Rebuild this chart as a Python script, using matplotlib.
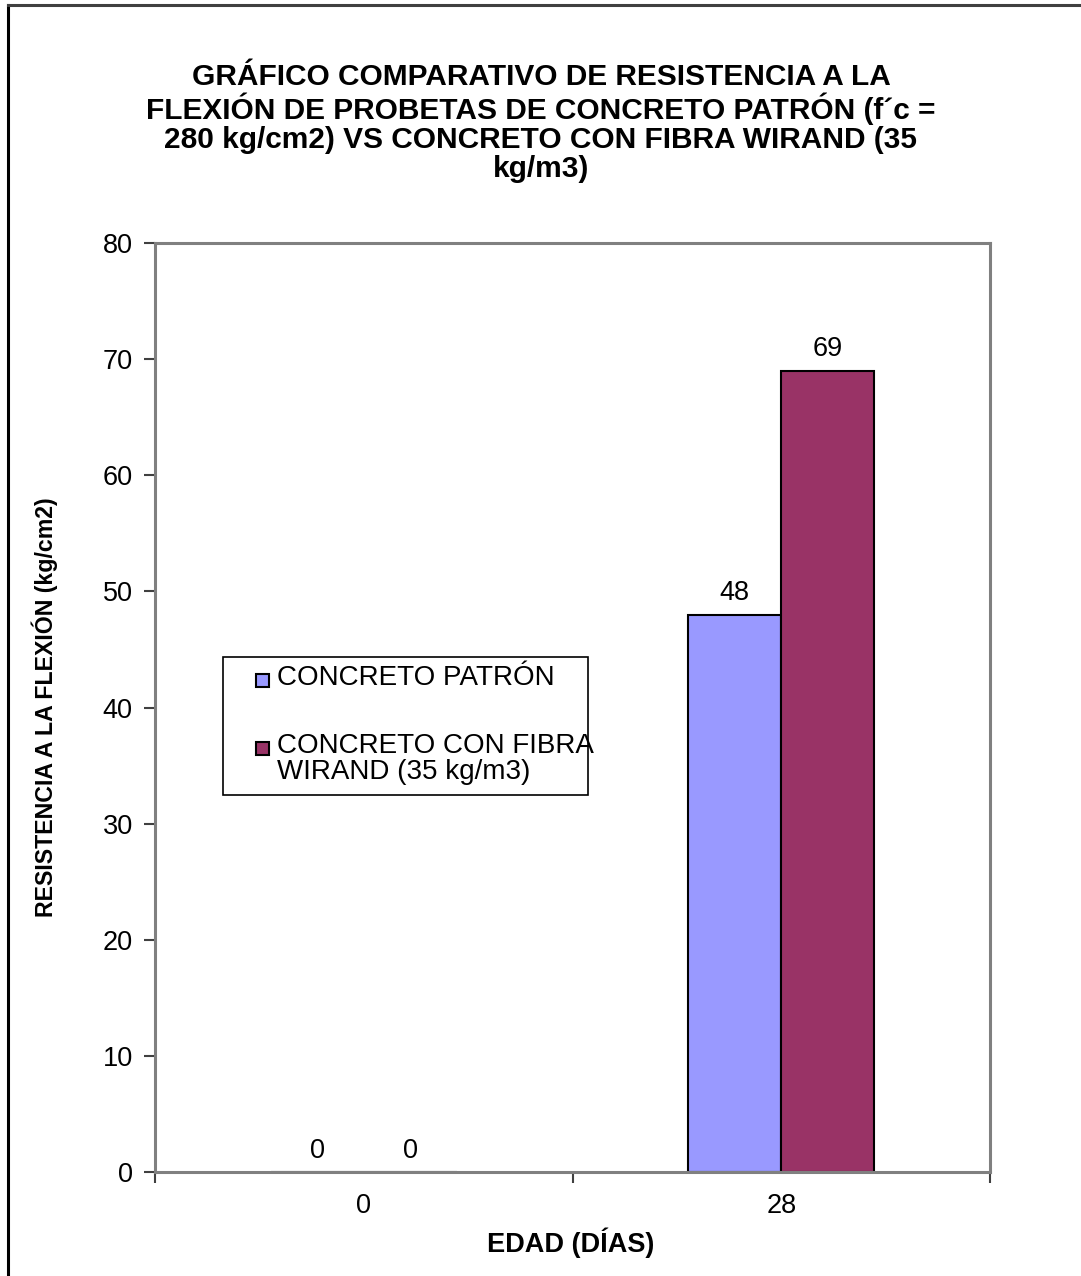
import matplotlib
matplotlib.use("Agg")
import matplotlib.pyplot as plt
from matplotlib.patches import Rectangle
import numpy as np

plt.rcParams['font.family'] = ['Liberation Sans', 'DejaVu Sans']

# Data
edades = ["0", "28"]
patron = [0, 48]
fibra = [0, 69]
series_labels = ["CONCRETO PATRÓN", "CONCRETO CON FIBRA\nWIRAND (35 kg/m3)"]
colors = ["#9999FF", "#993366"]
y_ticks = [0, 10, 20, 30, 40, 50, 60, 70, 80]

title = ("GRÁFICO COMPARATIVO DE RESISTENCIA A LA\n"
         "FLEXIÓN DE PROBETAS DE CONCRETO PATRÓN (f´c =\n"
         "280 kg/cm2) VS CONCRETO CON FIBRA WIRAND (35\n"
         "kg/m3)")

W, H = 1081, 1276
fig = plt.figure(figsize=(W / 100, H / 100), dpi=100)

# Outer chart frame (open on right and bottom)
fig.add_artist(plt.Line2D([8 / W, 8 / W], [0, 1 - 4.5 / H], color="black", lw=2.2,
                          transform=fig.transFigure))
fig.add_artist(plt.Line2D([8 / W, 1], [1 - 4.5 / H, 1 - 4.5 / H], color="#404040", lw=2.2,
                          transform=fig.transFigure))

ax = fig.add_axes([155 / W, 1 - 1172 / H, (990 - 155) / W, (1172 - 243) / H])

x = np.arange(len(edades))
bw = 0.223
b1 = ax.bar(x - bw / 2, patron, bw, color=colors[0], edgecolor="black", linewidth=1.5)
b2 = ax.bar(x + bw / 2, fibra, bw, color=colors[1], edgecolor="black", linewidth=1.5)

for bars, vals in ((b1, patron), (b2, fibra)):
    for rect, v in zip(bars, vals):
        ax.annotate(f"{v}", (rect.get_x() + rect.get_width() / 2, v),
                    xytext=(0, 15.3), textcoords="offset points",
                    ha="center", va="center", fontsize=19.5)

ax.set_xlim(-0.5, len(edades) - 0.5)
ax.set_ylim(0, 80)
ax.set_yticks(y_ticks)
ax.set_xticks(np.arange(len(edades) + 1) - 0.5)
ax.set_xticklabels([])
ax.set_xticks(x, minor=True)
ax.set_xticklabels(edades, minor=True)
ax.tick_params(axis="x", which="minor", length=0, pad=15, labelsize=19.5)
ax.tick_params(axis="x", which="major", length=8, width=1.5, color="#404040", direction="out")
ax.tick_params(axis="y", length=8, width=1.5, color="#404040", direction="out",
               labelsize=19.5, pad=8)

for s in ax.spines.values():
    s.set_color("#808080")
    s.set_linewidth(2.2)

ax.set_ylabel("RESISTENCIA A LA FLEXIÓN (kg/cm2)", fontsize=16.7, fontweight="bold")
ax.yaxis.set_label_coords(-(155 - 45) / 835, (1172 - 707) / 929)
ax.set_xlabel("EDAD (DÍAS)", fontsize=19.5, fontweight="bold")
ax.xaxis.set_label_coords((571 - 155) / 835, -(1243 - 1172) / 929)
ax.xaxis.label.set_va("center")
ax.yaxis.label.set_va("center")

fig.text(541 / W, 1 - 123 / H, title, ha="center", va="center", fontsize=21.5,
         fontweight="bold", linespacing=1.06)

# Legend box
lx0, lx1 = (223 - 155) / 835, (588 - 155) / 835
ly0, ly1 = (1172 - 795) / 929, (1172 - 657) / 929
ax.add_patch(Rectangle((lx0, ly0), lx1 - lx0, ly1 - ly0, transform=ax.transAxes,
                       facecolor="white", edgecolor="black", lw=1.2, zorder=5))
entries_y = [680, 748]
for lab, col, yy in zip(series_labels, colors, entries_y):
    sy = (1172 - yy) / 929
    sq = 13
    ax.add_patch(Rectangle(((256 - 155) / 835, sy - (sq / 2) / 929), sq / 835, sq / 929,
                           transform=ax.transAxes, facecolor=col, edgecolor="black",
                           lw=1.5, zorder=6))
    ax.text((277 - 155) / 835, sy + 15 / 929, lab, transform=ax.transAxes,
            ha="left", va="top", fontsize=20, zorder=6, linespacing=0.98)

fig.savefig("out.png", dpi=100)
